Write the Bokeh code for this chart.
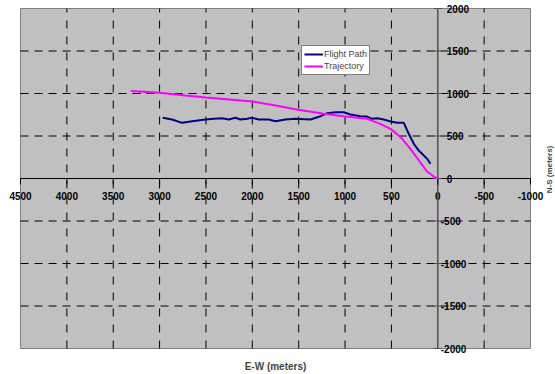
from bokeh.plotting import figure
from bokeh.models import Range1d, Label, ColumnDataSource
from bokeh.core.properties import value
from bokeh.embed import file_html
from bokeh.resources import INLINE

# ---------------- data ----------------
flight_x = [2966, 2865, 2757, 2649, 2505, 2416, 2325, 2254, 2182, 2128, 2056, 2002,
            1931, 1823, 1750, 1643, 1535, 1373, 1265, 1193, 1100, 1014, 942, 834,
            761, 708, 654, 582, 510, 438, 366, 330, 294, 258, 205, 151, 114, 79]
flight_y = [714, 694, 655, 674, 694, 702, 710, 694, 714, 694, 702, 714,
            694, 694, 674, 694, 702, 694, 733, 768, 780, 780, 753, 733,
            729, 702, 710, 694, 671, 655, 655, 565, 486, 408, 329, 271, 231, 173]

traj_x = [3310, 3000, 2720, 2500, 2000, 1750, 1535, 1230, 1015, 760, 620, 510,
          400, 295, 190, 115, 40, 0]
traj_y = [1030, 1008, 976, 952, 906, 860, 815, 761, 733, 702, 643, 584,
          486, 349, 192, 82, 20, 0]

x_ticks = [4500, 4000, 3500, 3000, 2500, 2000, 1500, 1000, 500, 0, -500, -1000]
y_ticks = [2000, 1500, 1000, 500, 0, -500, -1000, -1500, -2000]
x_tick_labels = [str(v) for v in x_ticks]
y_tick_labels = [str(v) for v in y_ticks]

# ---------------- layout ----------------
W, H = 555, 374
L, R, T, B = 20, 25, 8, 26          # plot-area margins inside the canvas
FW, FH = W - L - R, H - T - B
X0, X1 = x_ticks[0], x_ticks[-1]
Y0, Y1 = y_ticks[-1], y_ticks[0]
sx = FW / abs(X1 - X0)   # px per data unit
sy = FH / abs(Y1 - Y0)

def data_x(px):
    return X0 - (px - L) / sx

def data_y(py):
    return Y1 - (py - T) / sy

FONT = "Liberation Sans"

p = figure(width=W, height=H,
           x_range=Range1d(data_x(0), data_x(W)),
           y_range=Range1d(data_y(H), data_y(0)),
           x_axis_type=None, y_axis_type=None, toolbar_location=None,
           output_backend="svg", min_border=0)
p.background_fill_color = "white"
p.border_fill_color = "white"
p.outline_line_color = None

# plot area
p.quad(left=[X0], right=[X1], bottom=[Y0], top=[Y1], fill_color="#C0C0C0",
       line_color="#808080", line_width=1, level="image")

# tick labels (under the grid lines, as in the reference)
xsrc = ColumnDataSource(dict(x=x_ticks, y=[0] * len(x_ticks), text=x_tick_labels))
p.text(x="x", y="y", text="text", source=xsrc, y_offset=17,
       text_align="center", text_baseline="middle",
       text_font=value(FONT), text_font_style="bold",
       text_font_size="10px", text_color="black", level="underlay")
ysrc = ColumnDataSource(dict(x=[0] * len(y_ticks), y=y_ticks, text=y_tick_labels,
                             off=[3 if v < 0 else 9 for v in y_ticks]))
p.text(x="x", y="y", text="text", source=ysrc, x_offset="off",
       text_align="left", text_baseline="middle",
       text_font=value(FONT), text_font_style="bold",
       text_font_size="10px", text_color="black", level="underlay")

# dashed grid lines
vg_ticks = [v for v in x_ticks if v not in (X0, X1, 0)]
hg_ticks = [v for v in y_ticks if v not in (Y0, Y1, 0)]
p.segment(x0=vg_ticks, y0=[Y0] * len(vg_ticks), x1=vg_ticks, y1=[Y1] * len(vg_ticks),
          line_color="black", line_width=1, line_dash="8 8", level="underlay")
p.segment(x0=[X0] * len(hg_ticks), y0=hg_ticks, x1=[X1] * len(hg_ticks), y1=hg_ticks,
          line_color="black", line_width=1, line_dash="8 6", level="underlay")

# axes through the origin
p.segment(x0=[X0], y0=[0], x1=[X1], y1=[0], line_color="black", line_width=1.2,
          level="underlay")
p.segment(x0=[0], y0=[Y0], x1=[0], y1=[Y1], line_color="#505050", line_width=1.5,
          level="underlay")

# tick marks
p.segment(x0=x_ticks, y0=[0] * len(x_ticks), x1=x_ticks,
          y1=[-6 / sy] * len(x_ticks), line_color="black", line_width=1,
          level="underlay")
p.segment(x0=[4 / sx] * len(y_ticks), y0=y_ticks, x1=[-4 / sx] * len(y_ticks),
          y1=y_ticks, line_color="#505050", line_width=1, level="underlay")

# series
p.line(flight_x, flight_y, line_color="#000080", line_width=2,
       legend_label="Flight Path")
p.line(traj_x, traj_y, line_color="#FF00FF", line_width=2,
       legend_label="Trajectory")

# axis titles
p.add_layout(Label(x=data_x(275), y=data_y(366), text="E-W (meters)",
                   text_align="center", text_baseline="middle", text_font=FONT,
                   text_font_style="bold", text_font_size="10px"))
p.add_layout(Label(x=data_x(549), y=data_y(169), text="N-S (meters)", angle=1.5708,
                   text_align="center", text_baseline="middle", text_font=FONT,
                   text_font_style="bold", text_font_size="8px"))

lg = p.legend[0]
lg.location = (301, H - 75)
lg.margin = 0
lg.padding = 2
lg.spacing = 0
lg.label_text_font = FONT
lg.label_text_font_size = "9px"
lg.label_height = 12
lg.glyph_height = 12
lg.glyph_width = 19
lg.label_standoff = 1
lg.border_line_color = "black"
lg.border_line_width = 1
lg.background_fill_color = "white"
lg.background_fill_alpha = 1

open("out.html", "w").write(file_html(p, INLINE))
